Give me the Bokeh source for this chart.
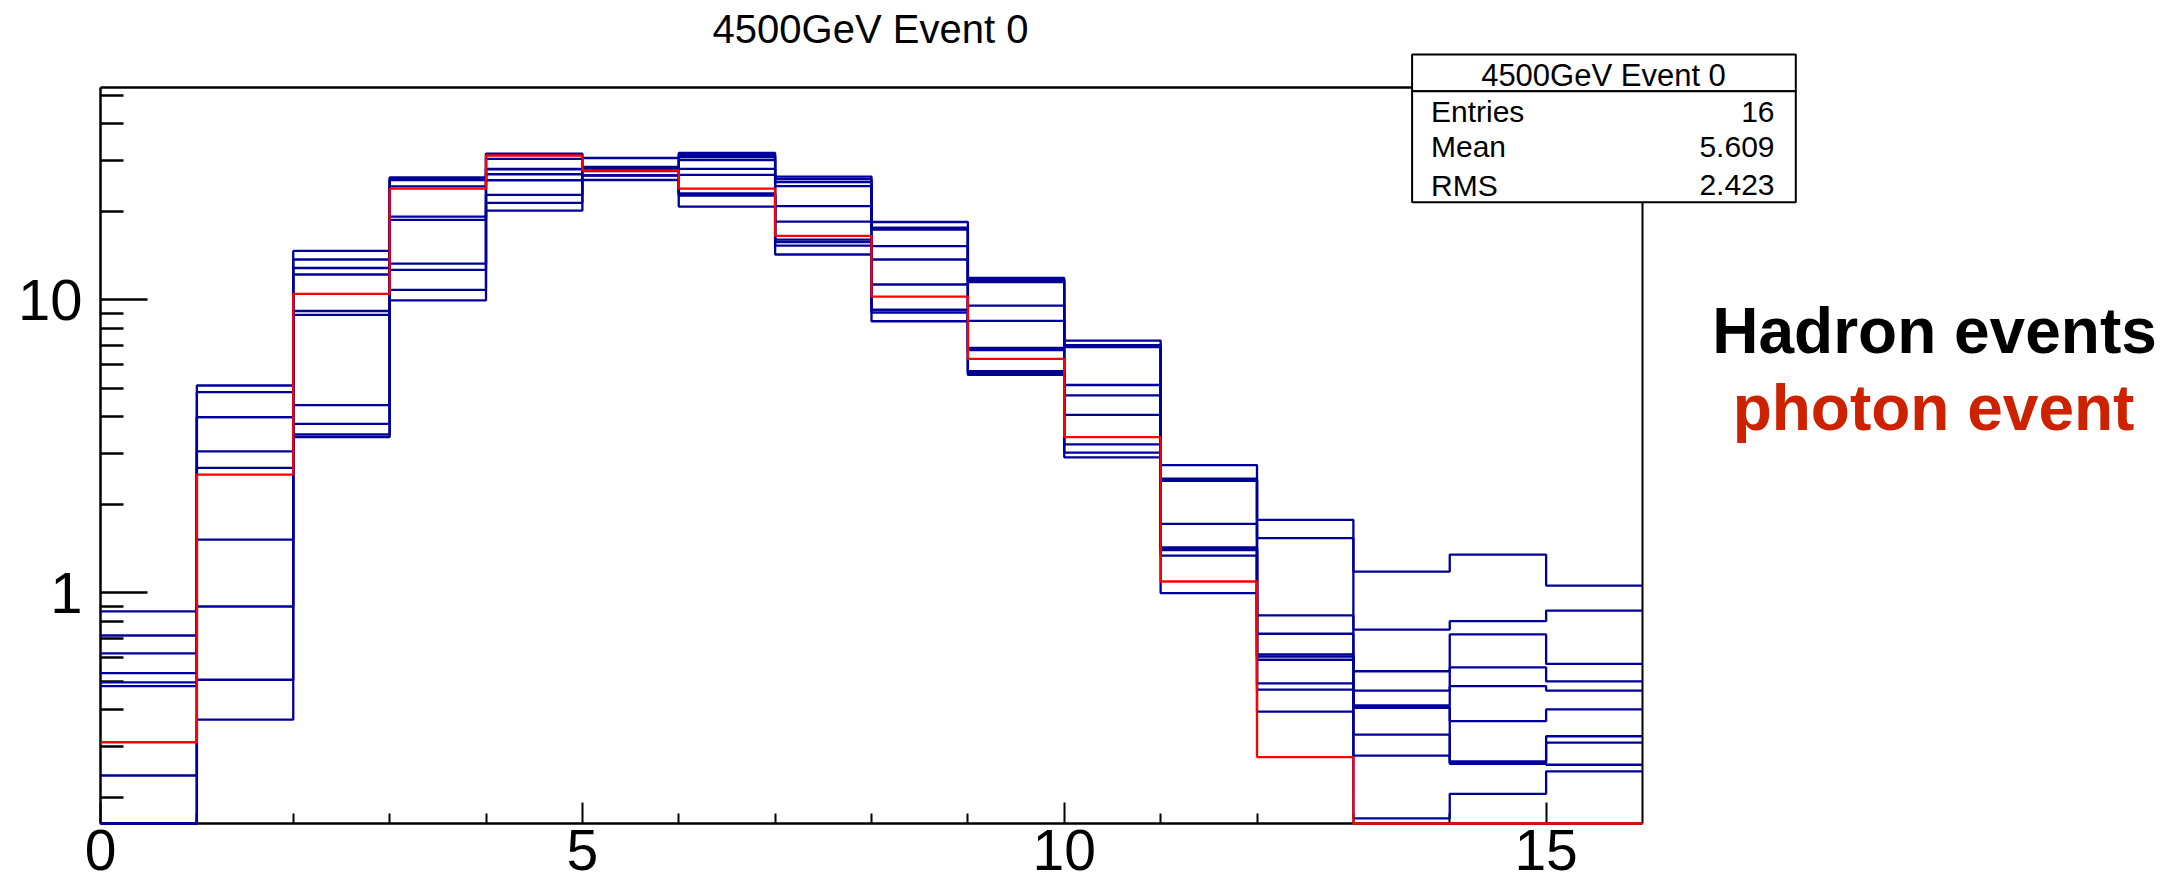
import math
from bokeh.plotting import figure
from bokeh.models import (FixedTicker, BasicTickFormatter, Label, BoxAnnotation, Range1d,
                          LinearAxis, LogAxis)
from bokeh.embed import file_html
from bokeh.resources import INLINE

# ---- data ----
bin_edges = list(range(17))            # 16 bins from 0 to 16

hadron_01 = [0.865, 5.10, 14.68, 26.15, 31.57, 30.48, 31.7, 26.35, 18.43, 11.87, 7.26, 2.73, 1.775, 1.182, 1.351, 1.059]
hadron_02 = [0.715, 4.84, 13.73, 25.9, 31.2, 28.4, 31.2, 25.84, 17.65, 11.70, 7.0, 2.455, 1.536, 0.749, 0.800, 0.870]
hadron_03 = [0.621, 3.98, 12.84, 25.6, 30.28, 28.29, 30.7, 25.24, 17.5, 11.50, 6.98, 2.43, 0.837, 0.540, 0.721, 0.572]
hadron_04 = [0.532, 3.98, 12.20, 24.4, 28.00, 28.1, 30.0, 24.45, 17.38, 9.56, 6.89, 2.41, 0.725, 0.464, 0.557, 0.499]
hadron_05 = [0.495, 3.04, 9.16, 19.24, 27.9, 27.84, 28.0, 20.87, 15.24, 8.48, 5.12, 1.72, 0.616, 0.413, 0.480, 0.464]
hadron_06 = [0.480, 2.67, 8.89, 18.73, 26.83, 27.7, 26.7, 18.50, 13.73, 6.85, 4.72, 1.43, 0.606, 0.41, 0.365, 0.400]
hadron_07 = [0.238, 1.52, 4.37, 13.30, 25.59, 27.5, 23.1, 16.06, 11.28, 6.74, 4.05, 1.41, 0.591, 0.405, 0.266, 0.324]
hadron_08 = [0, 0.898, 3.77, 12.66, 22.83, 26.6, 22.9, 15.75, 9.25, 5.71, 3.21, 1.40, 0.491, 0.328, 0.263, 0.308]
hadron_09 = [0, 0.505, 3.47, 10.82, 21.43, 26.56, 22.7, 15.32, 9.05, 5.63, 3.01, 1.34, 0.467, 0.278, 0.261, 0.259]
hadron_10 = [0, 0.369, 3.40, 9.95, 20.17, 25.64, 20.8, 14.28, 8.45, 5.54, 2.90, 0.997, 0.393, 0.170, 0.206, 0.246]
photon = [0.309, 2.53, 10.48, 23.96, 31.08, 27.62, 23.96, 16.54, 10.26, 6.29, 3.40, 1.093, 0.275, 0, 0, 0]

x_major_ticks = [0, 5, 10, 15]
x_minor_ticks = [1, 2, 3, 4, 6, 7, 8, 9, 11, 12, 13, 14]
y_major_ticks = [1, 10]
y_minor_ticks = [0.2, 0.3, 0.4, 0.5, 0.6, 0.7, 0.8, 0.9, 2, 3, 4, 5, 6, 7, 8, 9, 20, 30, 40, 50]

title_text = "4500GeV Event 0"
stats_names = ["Entries", "Mean", "RMS"]
stats_values = ["16", "5.609", "2.423"]
side_text_1 = "Hadron events"
side_text_2 = "photon event"

X0, X1 = 0, 16            # axis limits
Y0, Y1 = 0.1632, 53.17

# ---- layout (pixels on the 2184x885 canvas) ----
W, H = 2184, 885
FL, FR, FT, FB = 100, 1642, 86.7, 823
FONT = "Liberation Sans"
BLUE = "#000099"
RED = "#ff0000"

# the plotting frame covers the whole canvas; the histogram "pad" is drawn with axes at fixed locations
ppx = (FR - FL) / (X1 - X0)
x_range = Range1d(X0 - FL / ppx, X1 + (W - FR) / ppx)
lpp = (math.log10(Y1) - math.log10(Y0)) / (FB - FT)
y_range = Range1d(10 ** (math.log10(Y0) - (H - FB) * lpp), 10 ** (math.log10(Y1) + FT * lpp))

p = figure(width=W, height=H, output_backend="svg", toolbar_location=None,
           x_range=x_range, y_range=y_range, y_axis_type="log",
           min_border_left=0, min_border_right=0, min_border_top=0, min_border_bottom=0,
           background_fill_color="white", border_fill_color="white")
p.title.visible = False
p.xgrid.visible = False
p.ygrid.visible = False
p.outline_line_color = None

def draw_hist(vals, color):
    ys = [v if v > 0 else Y0 for v in vals]
    ys = ys + [ys[-1]]
    r = p.step(x=bin_edges, y=ys, mode="after", line_color=color, line_width=2.3)
    r.level = "overlay"
    return r

for h in [hadron_01, hadron_02, hadron_03, hadron_04, hadron_05,
          hadron_06, hadron_07, hadron_08, hadron_09, hadron_10]:
    draw_hist(h, BLUE)
draw_hist(photon, RED)

# bottom axis
xa = p.xaxis[0]
xa.fixed_location = Y0
xa.bounds = (X0, X1)
xa.ticker = FixedTicker(ticks=x_major_ticks, minor_ticks=x_minor_ticks)
xa.axis_line_width = 2.5
xa.major_tick_in = 21
xa.major_tick_out = 0
xa.minor_tick_in = 10
xa.minor_tick_out = 0
xa.major_tick_line_width = 2
xa.minor_tick_line_width = 2
xa.major_label_text_font = FONT
xa.major_label_text_font_size = "57px"
xa.major_label_standoff = 6
xa.major_label_text_color = "black"

# left axis
ya = p.yaxis[0]
ya.fixed_location = X0
ya.bounds = (Y0, Y1)
ya.ticker = FixedTicker(ticks=y_major_ticks, minor_ticks=y_minor_ticks)
ya.formatter = BasicTickFormatter()
ya.axis_line_width = 2.5
ya.major_tick_in = 47
ya.major_tick_out = 0
ya.minor_tick_in = 23
ya.minor_tick_out = 0
ya.major_tick_line_width = 2.5
ya.minor_tick_line_width = 2.5
ya.major_label_text_font = FONT
ya.major_label_text_font_size = "58px"
ya.major_label_standoff = 18
ya.major_label_text_color = "black"

# top and right frame lines (plain axes, no ticks)
top_ax = LinearAxis(fixed_location=Y1, bounds=(X0, X1), ticker=FixedTicker(ticks=[]),
                    axis_line_width=2.5, major_tick_in=0, major_tick_out=0,
                    minor_tick_in=0, minor_tick_out=0)
p.add_layout(top_ax, "above")
right_ax = LogAxis(fixed_location=X1, bounds=(Y0, Y1), ticker=FixedTicker(ticks=[]),
                   axis_line_width=2, major_tick_in=0, major_tick_out=0,
                   minor_tick_in=0, minor_tick_out=0)
p.add_layout(right_ax, "right")

# screen units are relative to the frame (bottom-left origin) = canvas here
# cy is the vertical centre of the capital letters on the canvas (top-left origin)
def lab(text, cx, cy, size, align="left", bold=False, color="black"):
    p.add_layout(Label(x=cx, y=H - cy, x_units="screen", y_units="screen",
                       text=text, text_font=FONT, text_font_size=f"{size}px",
                       text_align=align, text_baseline="middle",
                       text_font_style="bold" if bold else "normal",
                       text_color=color))

lab(title_text, 870, 28, 40, align="center")

# stats box
box_l, box_r, box_t, box_sep, box_b = 1411.6, 1795.3, 54, 90.7, 201.7
for top, bot in [(box_t, box_sep), (box_sep, box_b)]:
    p.add_layout(BoxAnnotation(left=box_l, right=box_r, top=H - top, bottom=H - bot,
                               left_units="screen", right_units="screen",
                               top_units="screen", bottom_units="screen",
                               fill_color="white", fill_alpha=1.0,
                               line_color="black", line_alpha=1.0, line_width=2))
lab(title_text, 1603, 75, 31, align="center")
for nm, vv, cy in zip(stats_names, stats_values, [111.2, 146.2, 184.5]):
    lab(nm, 1430.5, cy, 30)
    lab(vv, 1774, cy, 30, align="right")

lab(side_text_1, 1934, 330, 64, align="center", bold=True)
lab(side_text_2, 1933, 407, 64, align="center", bold=True, color="#cc2200")

open("out.html", "w").write(file_html(p, INLINE))
